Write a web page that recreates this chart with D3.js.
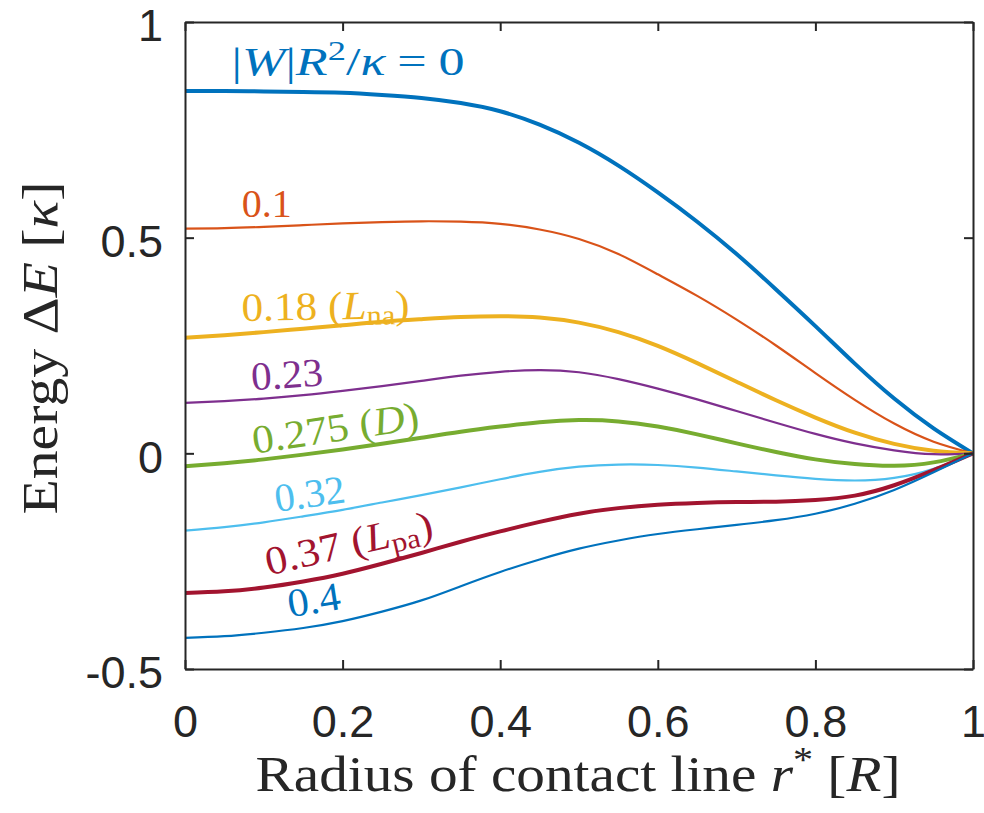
<!DOCTYPE html>
<html>
<head>
<meta charset="utf-8">
<script src="https://cdn.jsdelivr.net/npm/d3@7"></script>
<style>
  body { margin: 0; background: #fff; }
  .tick text { font-family: "Liberation Sans", Arial, sans-serif; font-size: 45px; fill: #262626; }
  .tick line, .domain { stroke: #262626; stroke-width: 2px; }
</style>
</head>
<body>
<div class="chart"></div>
<script>
// r* grid (in units of R)
var rStar = [0, 0.05, 0.1, 0.15, 0.2, 0.25, 0.3, 0.35, 0.4, 0.45, 0.5, 0.55, 0.6, 0.65, 0.7, 0.75, 0.8, 0.85, 0.9, 0.95, 1];

// energy curves, one per |W|R^2/kappa
var e000 = [0.840, 0.840, 0.839, 0.838, 0.836, 0.831, 0.824, 0.812, 0.793, 0.762, 0.720, 0.667, 0.605, 0.537, 0.462, 0.380, 0.295, 0.208, 0.127, 0.058, 0];
var e010 = [0.521, 0.522, 0.525, 0.529, 0.533, 0.536, 0.538, 0.537, 0.532, 0.519, 0.497, 0.462, 0.415, 0.365, 0.310, 0.250, 0.186, 0.124, 0.069, 0.027, 0];
var e018 = [0.268, 0.274, 0.281, 0.289, 0.297, 0.305, 0.311, 0.316, 0.318, 0.315, 0.303, 0.281, 0.249, 0.209, 0.166, 0.123, 0.083, 0.048, 0.022, 0.006, 0];
var e023 = [0.117, 0.121, 0.127, 0.135, 0.145, 0.156, 0.168, 0.180, 0.189, 0.193, 0.188, 0.172, 0.150, 0.125, 0.098, 0.071, 0.045, 0.023, 0.007, -0.002, 0];
var e0275 = [-0.030, -0.023, -0.014, -0.003, 0.009, 0.022, 0.036, 0.050, 0.062, 0.072, 0.077, 0.074, 0.062, 0.044, 0.023, 0.003, -0.014, -0.025, -0.029, -0.021, 0];
var e032 = [-0.179, -0.171, -0.160, -0.146, -0.131, -0.114, -0.097, -0.079, -0.060, -0.043, -0.031, -0.026, -0.027, -0.033, -0.042, -0.051, -0.059, -0.063, -0.057, -0.036, 0];
var e037 = [-0.324, -0.320, -0.311, -0.297, -0.279, -0.256, -0.231, -0.205, -0.181, -0.159, -0.140, -0.127, -0.119, -0.115, -0.113, -0.112, -0.108, -0.098, -0.074, -0.039, 0];
var e040 = [-0.428, -0.424, -0.416, -0.405, -0.389, -0.367, -0.341, -0.308, -0.275, -0.246, -0.221, -0.202, -0.187, -0.176, -0.166, -0.155, -0.140, -0.117, -0.085, -0.044, 0];

var xTicks = [0, 0.2, 0.4, 0.6, 0.8, 1];
var yTicks = [-0.5, 0, 0.5, 1];
var xTickLabels = ["0", "0.2", "0.4", "0.6", "0.8", "1"];
var yTickLabels = ["-0.5", "0", "0.5", "1"];

var series = [
  { values: e000, color: "#0072BD", width: 4 },
  { values: e010, color: "#D95319", width: 2.2 },
  { values: e018, color: "#EDB120", width: 4 },
  { values: e023, color: "#7E2F8E", width: 2.2 },
  { values: e0275, color: "#77AC30", width: 4 },
  { values: e032, color: "#4DBEEE", width: 2.2 },
  { values: e037, color: "#A2142F", width: 4 },
  { values: e040, color: "#0072BD", width: 2.2 }
];

// curve labels (anchor in data units); parts are [text, kind, dx]
var curveLabels = [
  { r: 0.059, e: 0.877, angle: 0, w: 233, color: "#0072BD",
    parts: [["|", ""], ["W", "i"], ["|", ""], ["R", "i"], ["2", "sup"], ["/", ""], ["κ", "i"], ["=", "", 9], ["0", "", 9]] },
  { r: 0.072, e: 0.548, angle: 0, w: 50, color: "#D95319", parts: [["0.1", ""]] },
  { r: 0.072, e: 0.307, angle: -1, w: 168, color: "#EDB120",
    parts: [["0.18 (", ""], ["L", "i"], ["na", "sub"], [")", ""]] },
  { r: 0.085, e: 0.146, angle: -4, w: 72, color: "#7E2F8E", parts: [["0.23", ""]] },
  { r: 0.088, e: -0.001, angle: -8.5, w: 168, color: "#77AC30",
    parts: [["0.275 (", ""], ["D", "i"], [")", ""]] },
  { r: 0.116, e: -0.136, angle: -8, w: 71, color: "#4DBEEE", parts: [["0.32", ""]] },
  { r: 0.106, e: -0.283, angle: -13, w: 171, color: "#A2142F",
    parts: [["0.37 (", ""], ["L", "i"], ["pa", "sub"], [")", ""]] },
  { r: 0.133, e: -0.380, angle: -9, w: 53, color: "#0072BD", parts: [["0.4", ""]] }
];

var serif = "'Liberation Serif', 'Times New Roman', serif";

var svgWidth = 984;
var svgHeight = 813;
var margin = { top: 22, right: 11, bottom: 144, left: 185 };

var svg = d3.select(".chart")
  .append("svg")
  .attr("width", svgWidth)
  .attr("height", svgHeight);

var x = d3.scaleLinear().domain([0, 1]).range([margin.left, svgWidth - margin.right]);
var y = d3.scaleLinear().domain([-0.5, 1]).range([svgHeight - margin.bottom, margin.top]);

// Curves
var line = d3.line()
  .x(function(d) { return x(d[0]); })
  .y(function(d) { return y(d[1]); })
  .curve(d3.curveNatural);

svg.append("g").selectAll("path")
  .data(series)
  .enter().append("path")
    .attr("d", function(s) { return line(rStar.map(function(r, i) { return [r, s.values[i]]; })); })
    .attr("fill", "none")
    .attr("stroke", function(s) { return s.color; })
    .attr("stroke-width", function(s) { return s.width; });

// Axes (ticks point inwards, MATLAB box style)
svg.append("g")
  .attr("transform", "translate(0," + y(-0.5) + ")")
  .call(d3.axisBottom(x).tickValues(xTicks).tickSizeInner(-9).tickSizeOuter(0).tickPadding(36)
    .tickFormat(function(d, i) { return xTickLabels[i]; }));

svg.append("g")
  .attr("transform", "translate(" + x(0) + ",0)")
  .call(d3.axisLeft(y).tickValues(yTicks).tickSizeInner(-9).tickSizeOuter(0).tickPadding(22)
    .tickFormat(function(d, i) { return yTickLabels[i]; }))
  .selectAll("text").attr("dy", "0.42em");

svg.append("g")
  .attr("transform", "translate(0," + y(1) + ")")
  .call(d3.axisTop(x).tickValues(xTicks).tickSizeInner(-9).tickSizeOuter(0).tickFormat(""));

svg.append("g")
  .attr("transform", "translate(" + x(1) + ",0)")
  .call(d3.axisRight(y).tickValues(yTicks).tickSizeInner(-9).tickSizeOuter(0).tickFormat(""));

// build text from parts: italic, superscript, subscript
function mathText(sel, parts, size) {
  var shift = 0;
  parts.forEach(function(p) {
    var t = sel.append("tspan").text(p[0]);
    var dy = -shift;
    shift = 0;
    if (p[1] === "i") t.attr("font-style", "italic");
    if (p[1] === "sup") { shift = -size * 0.38; t.attr("font-size", size * 0.7); }
    if (p[1] === "sub") { shift = size * 0.15; t.attr("font-size", size * 0.7); }
    dy += shift;
    if (dy) t.attr("dy", dy);
    if (p[2]) t.attr("dx", p[2]);
  });
}

// stretch a text horizontally to the width of the LaTeX original
function fitWidth(sel, target) {
  var w = sel.node().getBBox().width;
  return target / w;
}

curveLabels.forEach(function(l) {
  var size = 40;
  var t = svg.append("text")
    .attr("font-family", serif)
    .attr("font-size", size)
    .attr("fill", l.color);
  mathText(t, l.parts, size);
  var sx = fitWidth(t, l.w);
  t.attr("transform", "translate(" + x(l.r) + "," + y(l.e) + ") rotate(" + l.angle + ") scale(" + sx + ",1)");
});

// Axis titles
var xTitle = svg.append("text")
  .attr("font-family", serif)
  .attr("font-size", 50)
  .attr("fill", "#262626")
  .attr("text-anchor", "middle");
mathText(xTitle, [["Radius of contact line ", ""], ["r", "i"], ["*", "sup"], [" [", ""], ["R", "i"], ["]", ""]], 50);
xTitle.attr("transform", "translate(" + ((x(0) + x(1)) / 2 - 1) + ",791) scale(" + fitWidth(xTitle, 645) + ",1)");

var yTitle = svg.append("text")
  .attr("font-family", serif)
  .attr("font-size", 50)
  .attr("fill", "#262626")
  .attr("text-anchor", "middle");
mathText(yTitle, [["Energy Δ", ""], ["E", "i"], [" [", ""], ["κ", "i"], ["]", ""]], 50);
yTitle.attr("transform", "translate(57,348) rotate(-90) scale(" + fitWidth(yTitle, 333) + ",1)");
</script>
</body>
</html>
